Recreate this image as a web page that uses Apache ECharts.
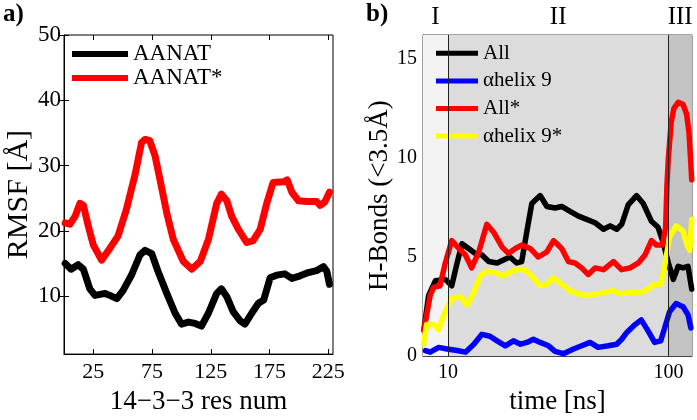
<!DOCTYPE html>
<html>
<head>
<meta charset="utf-8">
<script src="https://cdn.jsdelivr.net/npm/echarts@6/dist/echarts.min.js"></script>
<style>html,body{margin:0;padding:0;background:#fff}#c{width:697px;height:420px}</style>
</head>
<body>
<div id="c"></div>
<script>
// ---- Panel a: RMSF vs residue ----
const resTicks = [25, 75, 125, 175, 225];
const rmsfTicks = [10, 20, 30, 40, 50];
const aanatRes = [1, 6, 12, 16.5, 22, 26.4, 35, 39, 45, 50.5, 57.7, 64.7, 69, 74.7, 80, 87.5, 94.5, 100, 106, 111.6, 117, 123, 130, 134, 138.6, 144, 150, 154, 160, 165.5, 170, 175.5, 181, 188, 194, 201, 208, 215, 221, 223.7, 226];
const aanatVals = [15.0, 14.1, 14.8, 14.1, 11.1, 10.1, 10.4, 10.1, 9.6, 10.9, 13.3, 16.3, 17.0, 16.5, 13.8, 10.4, 7.4, 5.7, 6.0, 5.8, 5.4, 7.4, 10.4, 11.1, 9.9, 7.6, 6.2, 5.7, 7.4, 8.9, 9.4, 12.8, 13.2, 13.4, 12.7, 13.1, 13.6, 13.9, 14.5, 13.8, 11.8];
const aanatStarRes = [1, 5, 9.4, 13.6, 16.5, 20.7, 25, 32, 39, 46, 53, 60.5, 66, 69, 73, 77.5, 82, 87.5, 93, 101.6, 108.8, 116, 123, 130, 134, 138.6, 142.8, 148.5, 155.6, 161, 167, 172.6, 178, 187, 190, 194, 199.6, 206.7, 215, 218, 222, 226];
const aanatStarVals = [21.2, 21.0, 22.2, 24.2, 23.9, 20.7, 17.8, 15.5, 17.3, 19.2, 23.2, 28.6, 33.5, 34.0, 33.8, 31.5, 27.6, 22.7, 18.7, 15.3, 14.1, 15.3, 18.7, 24.2, 25.6, 24.6, 22.2, 20.2, 18.2, 18.5, 20.2, 24.2, 27.4, 27.5, 27.8, 25.9, 24.6, 24.5, 24.5, 23.9, 24.4, 25.9];

// ---- Panel b: H-bonds vs time (log) ----
const timeTicks = [10, 100];
const hbTicks = [0, 5, 10, 15];
const phaseNames = ['I', 'II', 'III'];
const phaseBounds = [7.7, 10, 100, 128];
const allT = [7.8, 7.9, 8.17, 8.76, 9.72, 10.4, 11.0, 11.57, 12.4, 13.3, 14.26, 15.3, 16.7, 17.85, 19.1, 20.5, 21.6, 22.8, 24.0, 26.2, 28.1, 30.6, 32.8, 35.8, 39.1, 42.6, 46.5, 50.8, 54.4, 58.3, 61.4, 65.7, 71.7, 76.9, 83.8, 89.8, 94.6, 100, 105.3, 110.8, 116.6, 122.8, 127.6];
const allV = [1.4, 1.9, 3.06, 3.8, 3.87, 3.55, 4.7, 5.67, 5.43, 5.18, 5.1, 4.77, 4.7, 4.85, 5.0, 4.7, 4.77, 6.3, 7.7, 8.1, 7.55, 7.47, 7.55, 7.3, 7.06, 6.9, 6.73, 6.4, 6.57, 6.4, 6.65, 7.63, 8.1, 7.7, 6.8, 6.5, 5.75, 4.7, 3.87, 4.53, 4.45, 4.53, 3.38];
const helixT = [7.9, 8.3, 9.07, 9.9, 11.0, 12.0, 13.1, 14.25, 15.5, 16.7, 18.2, 19.8, 21.3, 22.8, 24.4, 26.2, 28.6, 30.6, 33.4, 37.1, 40.4, 44.1, 48.0, 53.3, 58.3, 61.4, 64.6, 70.6, 75.3, 81, 86.6, 92.3, 96.2, 101.2, 108.4, 116.6, 122.8, 126.5];
const helixV = [0.28, 0.2, 0.44, 0.36, 0.28, 0.2, 0.6, 1.1, 1.0, 0.77, 0.52, 0.77, 0.6, 0.69, 0.85, 0.69, 0.52, 0.24, 0.12, 0.36, 0.52, 0.69, 0.44, 0.52, 0.6, 0.85, 1.18, 1.59, 1.83, 1.26, 0.69, 0.77, 1.42, 2.24, 2.65, 2.49, 2.08, 1.42];
const allStarT = [7.75, 7.9, 8.3, 8.6, 9.2, 9.72, 10.4, 11.2, 12.0, 12.8, 13.8, 15.0, 16.1, 17.6, 18.8, 20.2, 21.6, 23.6, 25.7, 28.1, 30.1, 32.8, 35.2, 37.7, 40.4, 43.3, 46.5, 50.8, 56.3, 61.4, 67.1, 73.1, 78.3, 83.8, 88.3, 94.0, 97.2, 98.5, 100, 103, 106, 110.8, 116.6, 121, 124, 126, 127.6];
const allStarV = [1.3, 1.75, 3.06, 3.47, 3.55, 4.7, 5.83, 5.43, 5.1, 4.45, 5.26, 6.65, 6.25, 5.5, 5.18, 5.43, 5.6, 5.43, 5.0, 5.26, 5.83, 5.43, 4.77, 4.7, 4.45, 4.12, 4.45, 4.36, 4.77, 4.36, 4.45, 4.7, 5.1, 5.83, 5.6, 5.6, 6.5, 8.6, 10.0, 11.8, 12.5, 12.8, 12.7, 12.2, 11.3, 10.0, 8.9];
const helixStarT = [7.75, 8.0, 8.6, 9.07, 9.7, 10.4, 11.4, 12.2, 13.1, 14.0, 15.0, 16.4, 17.85, 19.5, 21.3, 22.8, 24.4, 26.2, 28.1, 30.1, 32.8, 35.8, 39.1, 43.3, 48.0, 55.4, 61.4, 68.2, 75.3, 81, 86.6, 92.3, 96.2, 101.2, 108.4, 116.6, 121, 125, 126.5, 127.6];
const helixStarV = [0.6, 1.6, 1.6, 1.34, 2.24, 2.9, 3.0, 2.57, 3.22, 4.04, 4.28, 4.2, 4.04, 4.28, 4.4, 4.28, 3.95, 3.55, 3.63, 3.95, 3.63, 3.3, 3.14, 3.06, 3.14, 3.3, 3.14, 3.22, 3.22, 3.38, 3.63, 3.63, 4.53, 6.0, 6.57, 6.3, 5.67, 5.34, 6.2, 6.9];

const zip = (xs, ys) => xs.map((x, i) => [x, ys[i]]);
const FONT = '"Liberation Serif", "DejaVu Serif", serif';
const txt = (size) => ({ fontFamily: FONT, fontSize: size, color: '#000' });

const chart = echarts.init(document.getElementById('c'), null, { renderer: 'canvas' });

function lineSeries(name, data, color, width, xi, yi, z) {
  return {
    name, type: 'line', data, xAxisIndex: xi, yAxisIndex: yi,
    showSymbol: false, symbol: 'none', smooth: false, z: z || 3,
    lineStyle: { color, width, join: 'round', cap: 'round' },
    itemStyle: { color }, silent: true, animation: false, clip: true
  };
}

const phaseColors = ['#f3f3f3', '#dcdcdc', '#c3c3c3'];
const markAreaData = phaseNames.map((n, i) => [
  { name: n, xAxis: phaseBounds[i], itemStyle: { color: phaseColors[i] } },
  { xAxis: phaseBounds[i + 1] }
]);

const option = {
  animation: false,
  backgroundColor: '#fff',
  graphic: [
    { type: 'text', left: 3, top: 2, style: { text: 'a)', font: 'bold 25px ' + FONT, fill: '#000' } },
    { type: 'text', left: 366, top: 2, style: { text: 'b)', font: 'bold 25px ' + FONT, fill: '#000' } }
  ],
  grid: [
    { left: 64, top: 35, width: 269, height: 331, show: true, borderColor: '#000', borderWidth: 1, backgroundColor: 'transparent' },
    { left: 423, top: 35, width: 269, height: 330, show: true, borderColor: '#444', borderWidth: 1, backgroundColor: 'transparent' }
  ],
  legend: [
    {
      data: ['AANAT', 'AANAT*'], orient: 'vertical', left: 72, top: 42, padding: 0,
      icon: 'rect', itemWidth: 56, itemHeight: 6, itemGap: 0,
      textStyle: Object.assign(txt(23), { lineHeight: 24 }), selectedMode: false
    },
    {
      data: ['All', 'αhelix 9', 'All*', 'αhelix 9*'], orient: 'vertical', left: 436, top: 39.5, padding: 0,
      icon: 'rect', itemWidth: 42, itemHeight: 5, itemGap: 0,
      textStyle: Object.assign(txt(21), { lineHeight: 27.6 }), selectedMode: false
    }
  ],
  xAxis: [
    {
      gridIndex: 0, type: 'value', min: 0, max: 229, position: 'bottom',
      axisLine: { show: true, lineStyle: { color: '#000', width: 1 } },
      axisTick: { show: true, inside: true, length: 5, customValues: resTicks, lineStyle: { color: '#000' } },
      axisLabel: Object.assign(txt(22), { customValues: resTicks, margin: 7 }),
      splitLine: { show: false },
      name: '14\u22123\u22123 res num', nameLocation: 'middle', nameGap: 24, nameTextStyle: txt(27)
    },
    {
      gridIndex: 0, type: 'value', min: 0, max: 229, position: 'top',
      axisLine: { show: false },
      axisTick: { show: true, inside: true, length: 5, customValues: resTicks, lineStyle: { color: '#000' } },
      axisLabel: { show: false }, splitLine: { show: false }
    },
    {
      gridIndex: 1, type: 'log', logBase: 10, min: 7.7, max: 128, position: 'bottom',
      axisLine: { show: true, lineStyle: { color: '#444', width: 1 } },
      axisTick: { show: true, inside: true, length: 4, customValues: timeTicks, lineStyle: { color: '#444' } },
      axisLabel: Object.assign(txt(20), { customValues: timeTicks, margin: 7 }),
      splitLine: { show: false }, minorTick: { show: false },
      name: 'time [ns]', nameLocation: 'middle', nameGap: 24, nameTextStyle: txt(27)
    }
  ],
  yAxis: [
    {
      gridIndex: 0, type: 'value', min: 1.1, max: 50,
      axisLine: { show: true, lineStyle: { color: '#000', width: 1 } },
      axisTick: { show: true, inside: true, length: 5, customValues: rmsfTicks, lineStyle: { color: '#000' } },
      axisLabel: Object.assign(txt(23), { customValues: rmsfTicks, margin: 3 }),
      splitLine: { show: false },
      name: 'RMSF [Å]', nameLocation: 'middle', nameGap: 30, nameRotate: 90, nameTextStyle: txt(30)
    },
    {
      gridIndex: 0, type: 'value', min: 1.1, max: 50, position: 'right',
      axisLine: { show: false },
      axisTick: { show: true, inside: true, length: 5, customValues: rmsfTicks, lineStyle: { color: '#000' } },
      axisLabel: { show: false }, splitLine: { show: false }
    },
    {
      gridIndex: 1, type: 'value', min: 0, max: 16.2,
      axisLine: { show: true, lineStyle: { color: '#444', width: 1 } },
      axisTick: { show: true, inside: true, length: 4, customValues: hbTicks, lineStyle: { color: '#444' } },
      axisLabel: Object.assign(txt(20), { customValues: hbTicks, margin: 6 }),
      splitLine: { show: false },
      name: 'H-Bonds (<3.5Å)', nameLocation: 'middle', nameGap: 28, nameRotate: 90, nameTextStyle: txt(27)
    }
  ],
  series: [
    {
      name: 'phases', type: 'line', data: [], xAxisIndex: 2, yAxisIndex: 2, z: 1, silent: true,
      markArea: {
        silent: true, data: markAreaData,
        label: { show: true, position: 'top', distance: 5, formatter: '{b}', fontFamily: FONT, fontSize: 25, color: '#000' }
      },
      markLine: {
        silent: true, symbol: 'none', label: { show: false },
        lineStyle: { color: '#222', width: 1, type: 'solid' },
        data: [{ xAxis: 10 }, { xAxis: 100 }]
      }
    },
    lineSeries('AANAT', zip(aanatRes, aanatVals), '#000000', 7, 0, 0),
    lineSeries('AANAT*', zip(aanatStarRes, aanatStarVals), '#ff0000', 7, 0, 0),
    lineSeries('All', zip(allT, allV), '#000000', 5.5, 2, 2),
    lineSeries('αhelix 9', zip(helixT, helixV), '#0000ff', 5.5, 2, 2),
    lineSeries('All*', zip(allStarT, allStarV), '#ff0000', 5.5, 2, 2),
    lineSeries('αhelix 9*', zip(helixStarT, helixStarV), '#ffff00', 5.5, 2, 2)
  ]
};
chart.setOption(option);
</script>
</body>
</html>
